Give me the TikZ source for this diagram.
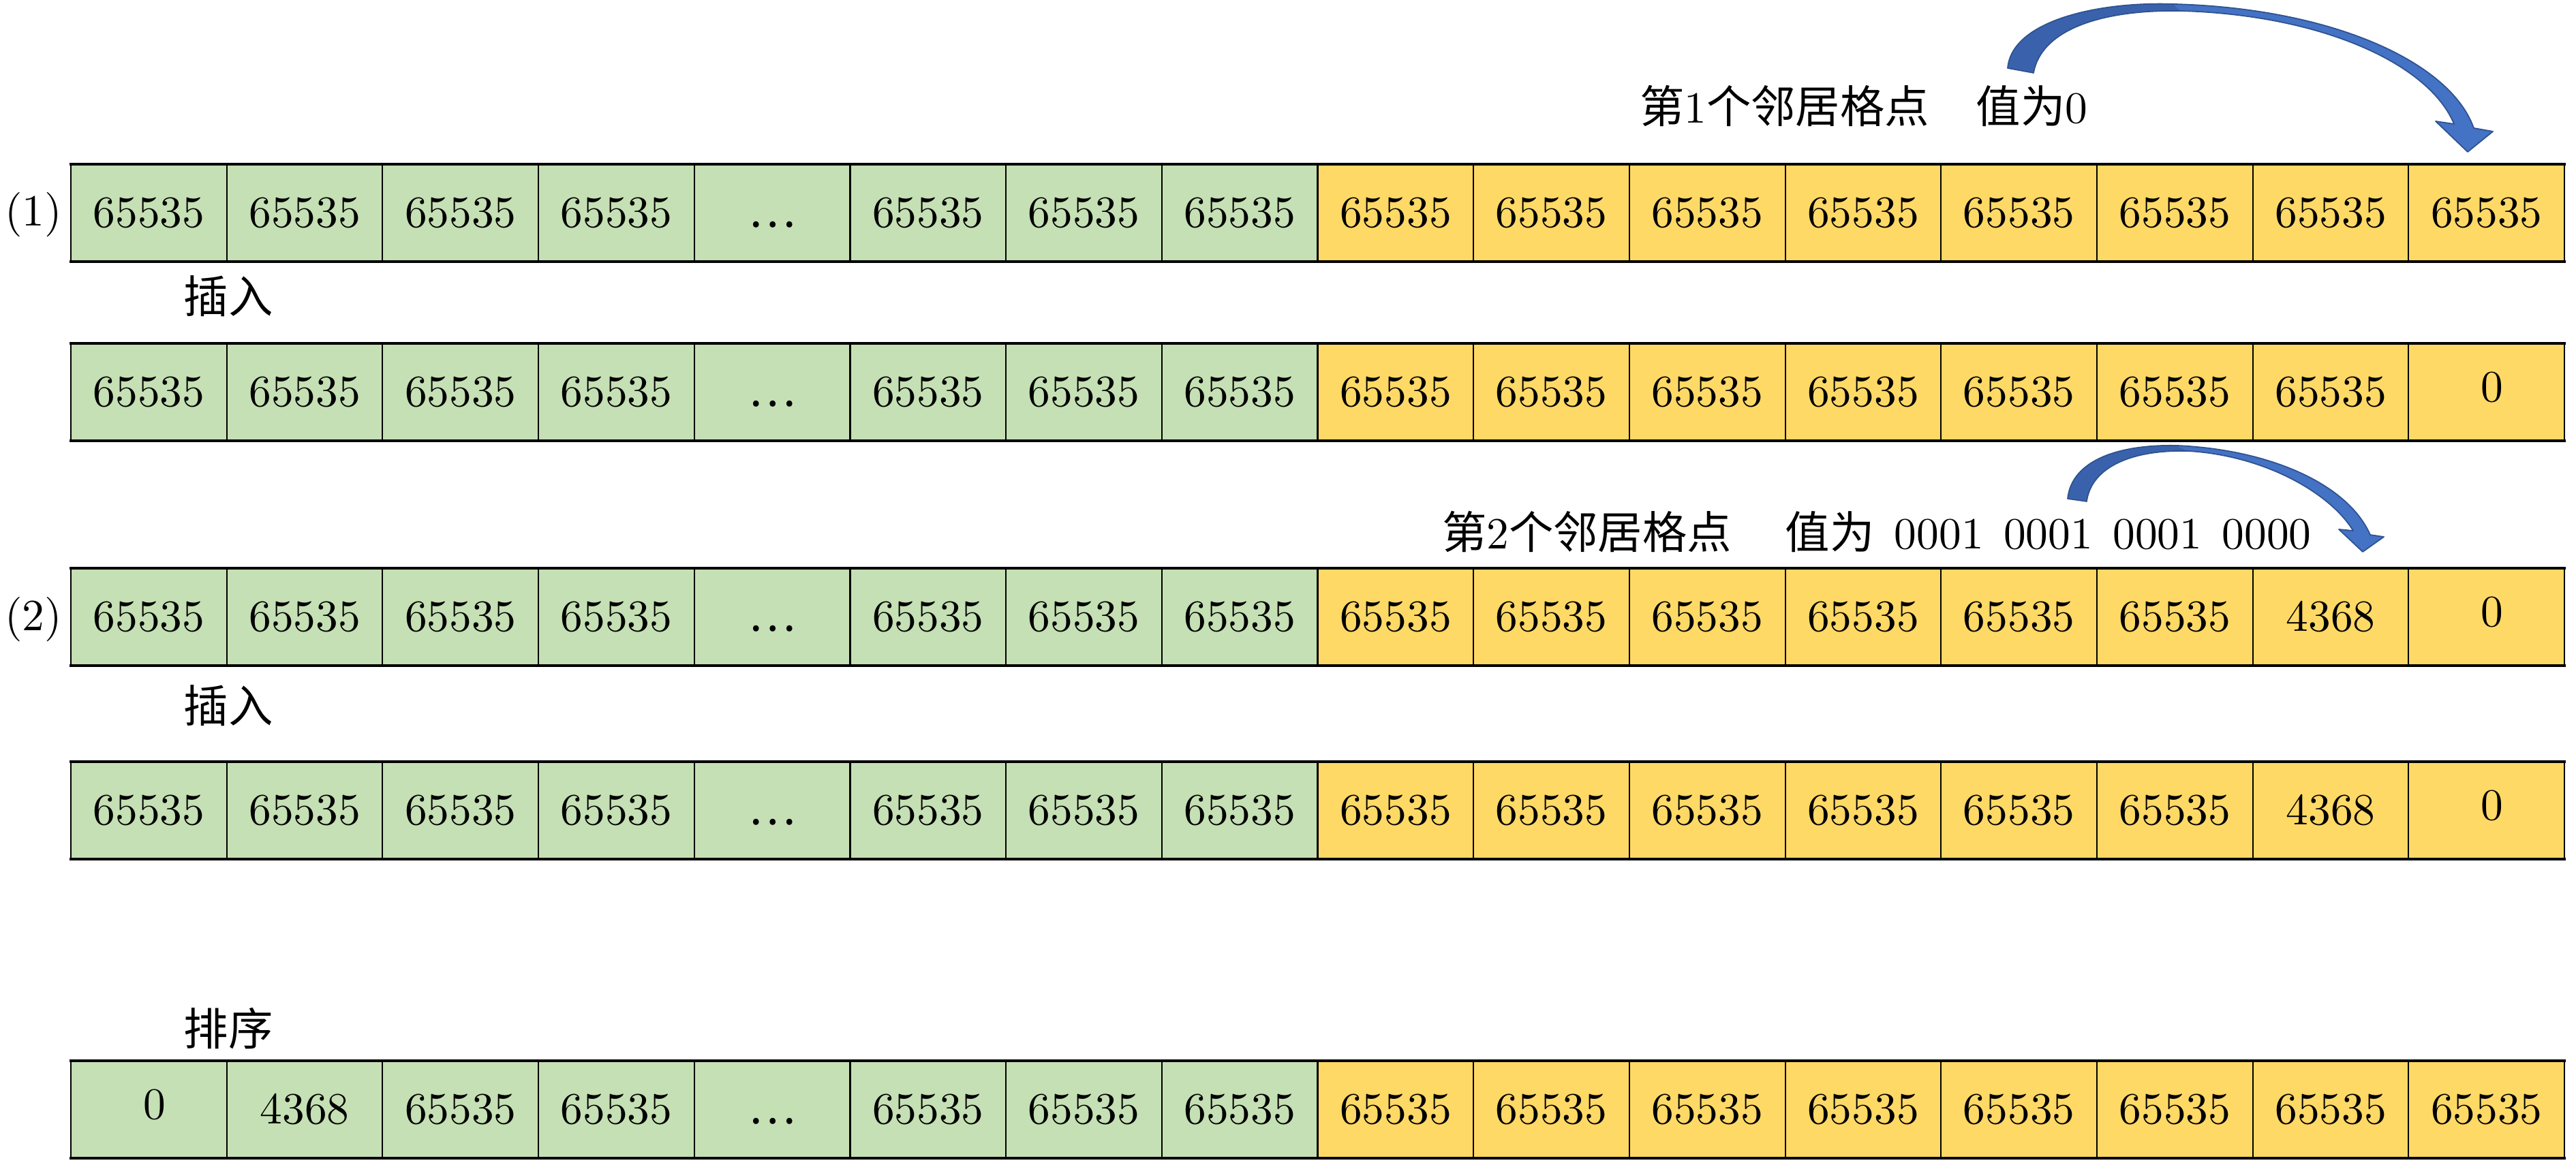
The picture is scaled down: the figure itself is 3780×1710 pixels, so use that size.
\documentclass[tikz,border=0pt]{standalone}
\usepackage{fontspec}
\setmainfont{lmroman10-regular.otf}
\newfontfamily\cjk{Noto Sans CJK SC}
\definecolor{cgreen}{HTML}{C5E0B4}
\definecolor{cyellow}{HTML}{FFD966}
\definecolor{arrfill}{HTML}{4472C4}
\definecolor{arrdark}{HTML}{3A62AC}
\definecolor{arrline}{HTML}{2F528F}
\newcommand\zeroval{\hspace{0.16cm}\raisebox{0.07cm}{0}}
\newcommand\celldots{{\cjk …}}
\begin{document}
\begin{tikzpicture}[x=0.01cm,y=-0.01cm,
  every node/.style={font=\fontsize{18.6pt}{22pt}\selectfont, inner sep=0pt, outer sep=0pt},
  cellbox/.style={draw=black, line width=0.6pt, minimum width=2.2869cm, minimum height=1.43cm,
                  text height=13pt, text depth=1pt, anchor=north west},
  gcell/.style={cellbox, fill=cgreen},
  ycell/.style={cellbox, fill=cyellow},
  rowline/.style={line width=1pt, line cap=rect},
  arrowback/.style={fill=arrdark},
  arrowfront/.style={fill=arrfill},
  arrowedge/.style={draw=arrline, line width=0.5pt, line join=round}
]
\useasboundingbox (0,0) rectangle (3780,1710);

% ---------- row 1 ----------
\foreach \v [count=\i from 0] in {65535,65535,65535,65535,\celldots,65535,65535,65535}
  \node[gcell] (ra\i) at ({104+\i*228.69},241) {\v};
\foreach \v [count=\i from 8] in {65535,65535,65535,65535,65535,65535,65535,65535}
  \node[ycell] (ra\i) at ({104+\i*228.69},241) {\v};
% ---------- row 2 ----------
\foreach \v [count=\i from 0] in {65535,65535,65535,65535,\celldots,65535,65535,65535}
  \node[gcell] (rb\i) at ({104+\i*228.69},504) {\v};
\foreach \v [count=\i from 8] in {65535,65535,65535,65535,65535,65535,65535,\zeroval}
  \node[ycell] (rb\i) at ({104+\i*228.69},504) {\v};
% ---------- row 3 ----------
\foreach \v [count=\i from 0] in {65535,65535,65535,65535,\celldots,65535,65535,65535}
  \node[gcell] (rc\i) at ({104+\i*228.69},834) {\v};
\foreach \v [count=\i from 8] in {65535,65535,65535,65535,65535,65535,4368,\zeroval}
  \node[ycell] (rc\i) at ({104+\i*228.69},834) {\v};
% ---------- row 4 ----------
\foreach \v [count=\i from 0] in {65535,65535,65535,65535,\celldots,65535,65535,65535}
  \node[gcell] (rd\i) at ({104+\i*228.69},1118) {\v};
\foreach \v [count=\i from 8] in {65535,65535,65535,65535,65535,65535,4368,\zeroval}
  \node[ycell] (rd\i) at ({104+\i*228.69},1118) {\v};
% ---------- row 5 ----------
\foreach \v [count=\i from 0] in {\zeroval,4368,65535,65535,\celldots,65535,65535,65535}
  \node[gcell] (re\i) at ({104+\i*228.69},1557) {\v};
\foreach \v [count=\i from 8] in {65535,65535,65535,65535,65535,65535,65535,65535}
  \node[ycell] (re\i) at ({104+\i*228.69},1557) {\v};

% thicker top and bottom borders of every row
\foreach \r in {ra,rb,rc,rd,re}{
  \draw[rowline] (\r0.north west) -- (\r15.north east);
  \draw[rowline] (\r0.south west) -- (\r15.south east);
}

% ---------- labels ----------
\node[anchor=base] (lab1) at (49,332) {(1)};
\node[anchor=base] (lab2) at (49,926) {(2)};
\node (ins1) at (335,435) {\cjk 插入};
\node (ins2) at (335,1036) {\cjk 插入};
\node (sort) at (335,1510) {\cjk 排序};

\node[anchor=base west] (txt1) at (2406,181)
  {{\cjk 第}1{\cjk 个邻居格点}\hspace{1.05em}{\cjk 值为}0};
\node[anchor=base west] (txt2) at (2116,806)
  {{\cjk 第}2{\cjk 个邻居格点}\hspace{1.2em}{\cjk 值为}\hspace{0.45em}0001\hspace{0.45em}0001\hspace{0.45em}0001\hspace{0.45em}0000};

% ---------- curved block arrow 1 ----------
\fill[arrowfront] (3190,6) .. controls (3420,12) and (3595,90) .. (3630,188)
  -- (3658,193) -- (3621,223) -- (3574,178) -- (3601,182)
  .. controls (3565,95) and (3410,22) .. (3200,16) -- cycle;
\fill[arrowback] (2946,100) .. controls (2952,30) and (3080,2) .. (3190,6)
  -- (3200,16) .. controls (3080,14) and (2995,45) .. (2984,107) -- cycle;
\draw[arrowedge] (2946,100) .. controls (2952,30) and (3080,2) .. (3190,6)
  .. controls (3420,12) and (3595,90) .. (3630,188)
  -- (3658,193) -- (3621,223) -- (3574,178) -- (3601,182)
  .. controls (3565,95) and (3410,22) .. (3200,16)
  .. controls (3080,14) and (2995,45) .. (2984,107) -- cycle;

% ---------- curved block arrow 2 ----------
\fill[arrowfront] (3195,654) .. controls (3330,660) and (3445,710) .. (3478,785)
  -- (3498,788) -- (3467,810) -- (3432,777) -- (3453,779)
  .. controls (3418,722) and (3320,668) .. (3210,662) -- cycle;
\fill[arrowback] (3034,732) .. controls (3040,675) and (3110,652) .. (3195,654)
  -- (3210,662) .. controls (3120,660) and (3068,690) .. (3062,736) -- cycle;
\draw[arrowedge] (3034,732) .. controls (3040,675) and (3110,652) .. (3195,654)
  .. controls (3330,660) and (3445,710) .. (3478,785)
  -- (3498,788) -- (3467,810) -- (3432,777) -- (3453,779)
  .. controls (3418,722) and (3320,668) .. (3210,662)
  .. controls (3120,660) and (3068,690) .. (3062,736) -- cycle;
\end{tikzpicture}
\end{document}
